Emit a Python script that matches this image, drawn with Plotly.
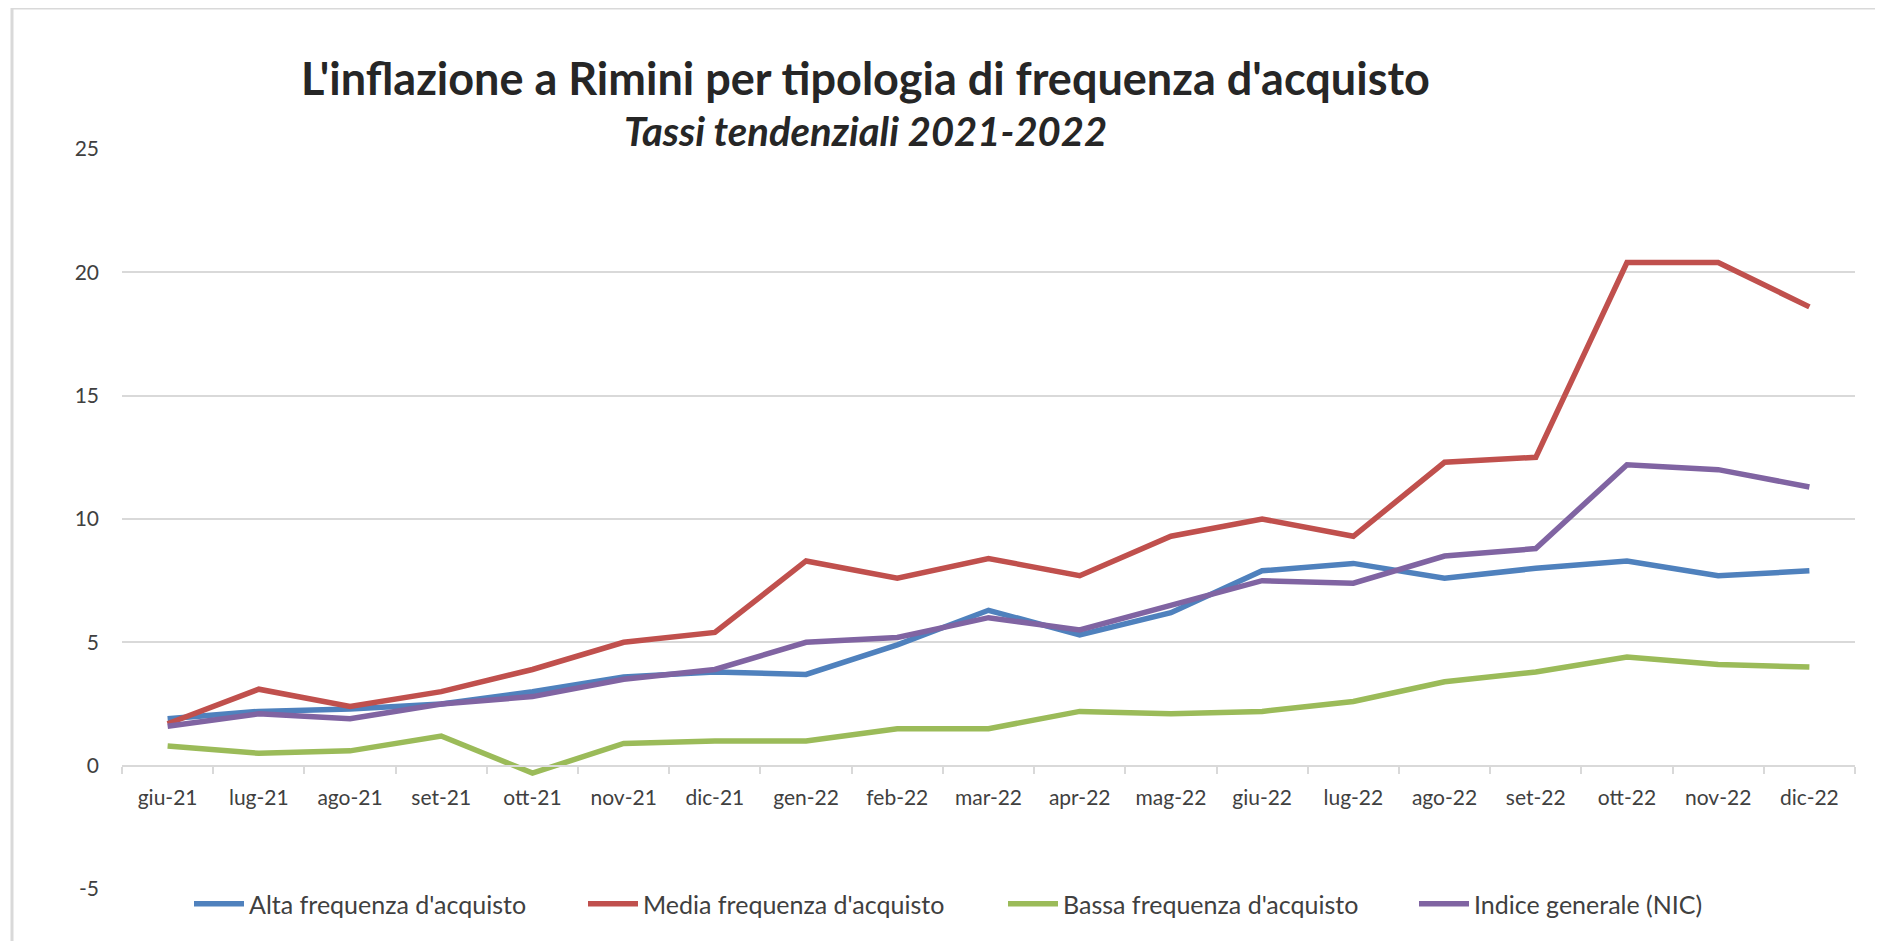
import plotly.graph_objects as go

months = ["giu-21", "lug-21", "ago-21", "set-21", "ott-21", "nov-21", "dic-21",
          "gen-22", "feb-22", "mar-22", "apr-22", "mag-22", "giu-22", "lug-22",
          "ago-22", "set-22", "ott-22", "nov-22", "dic-22"]

alta = [1.9, 2.2, 2.3, 2.5, 3.0, 3.6, 3.8, 3.7, 4.9, 6.3, 5.3, 6.2, 7.9, 8.2, 7.6, 8.0, 8.3, 7.7, 7.9]
media = [1.7, 3.1, 2.4, 3.0, 3.9, 5.0, 5.4, 8.3, 7.6, 8.4, 7.7, 9.3, 10.0, 9.3, 12.3, 12.5, 20.4, 20.4, 18.6]
bassa = [0.8, 0.5, 0.6, 1.2, -0.3, 0.9, 1.0, 1.0, 1.5, 1.5, 2.2, 2.1, 2.2, 2.6, 3.4, 3.8, 4.4, 4.1, 4.0]
nic = [1.6, 2.1, 1.9, 2.5, 2.8, 3.5, 3.9, 5.0, 5.2, 6.0, 5.5, 6.5, 7.5, 7.4, 8.5, 8.8, 12.2, 12.0, 11.3]

series_names = ["Alta frequenza d'acquisto", "Media frequenza d'acquisto",
                "Bassa frequenza d'acquisto", "Indice generale (NIC)"]
series_values = [alta, media, bassa, nic]
colors = ["#4F81BD", "#C0504D", "#9BBB59", "#8064A2"]

y_ticks = [-5, 0, 5, 10, 15, 20, 25]
y_tick_labels = ["-5", "0", "5", "10", "15", "20", "25"]

title = "L'inflazione a Rimini per tipologia di frequenza d'acquisto"
subtitle = "Tassi tendenziali 2021-2022"

FONT = "Lato"
OFF = 8  # page body margin offset
W, H = 1883 - OFF, 941 - OFF
# target page-pixel plot box: left 122, right 1855, top 149, bottom 889
ML = 122 - OFF
MT = 149 - OFF
MR = W - (1855 - OFF)
MB = H - (889 - OFF)
plot_h = H - MT - MB
plot_w = W - ML - MR


def py(page_y):
    return (H - MB - (page_y - OFF)) / plot_h


def px(page_x):
    return ((page_x - OFF) - ML) / plot_w


legend_ids = ["legend", "legend2", "legend3", "legend4"]
legend_starts = [197, 591, 1011, 1422]  # page x of each legend symbol start

fig = go.Figure()
for name, vals, col, lid in zip(series_names, series_values, colors, legend_ids):
    fig.add_trace(go.Scatter(
        x=months, y=vals, name=name, mode="lines",
        line=dict(color=col, width=5.5), legend=lid,
    ))

legend_layout = {}
for lid, start in zip(legend_ids, legend_starts):
    legend_layout[lid] = dict(
        orientation="h", x=px(start - 8), xanchor="left", y=py(904), yanchor="middle",
        font=dict(family=FONT, size=25, color="#404040"),
        itemwidth=50, bgcolor="rgba(0,0,0,0)",
    )

fig.update_layout(
    width=W, height=H,
    margin=dict(l=ML, r=MR, t=MT, b=MB),
    paper_bgcolor="white", plot_bgcolor="white",
    font=dict(family=FONT, color="#404040", size=21),
    showlegend=True,
    xaxis=dict(
        type="category", range=[-0.5, len(months) - 0.5],
        anchor="free", position=5 / 30,
        showline=True, linecolor="#D9D9D9", linewidth=2,
        ticks="outside", tickson="boundaries", ticklen=7, tickcolor="#D9D9D9", tickwidth=2,
        showgrid=False, tickfont=dict(family=FONT, size=21, color="#404040"),
        ticklabelstandoff=13,
    ),
    yaxis=dict(
        range=[-5, 25], tickvals=y_ticks, ticktext=y_tick_labels,
        showgrid=True, gridcolor="#D9D9D9", gridwidth=2,
        zeroline=False, showline=False, ticks="",
        tickfont=dict(family=FONT, size=21, color="#404040"),
        ticklabelstandoff=22,
    ),
    shapes=[dict(type="rect", xref="paper", yref="paper",
                 x0=px(12), x1=px(W + 60), y0=py(H + 60), y1=py(8),
                 line=dict(color="#D9D9D9", width=3), fillcolor="rgba(0,0,0,0)", layer="below")],
    annotations=[
        dict(text="<b>" + title + "</b>", xref="paper", yref="paper",
             x=px(865), y=py(78), xanchor="center", yanchor="middle", showarrow=False,
             font=dict(family=FONT, size=45, color="#262626")),
        dict(text="<b><i>" + subtitle + "</i></b>", xref="paper", yref="paper",
             x=px(865), y=py(131), xanchor="center", yanchor="middle", showarrow=False,
             font=dict(family=FONT, size=40, color="#262626")),
    ],
    **legend_layout,
)

fig.write_html("out.html")
